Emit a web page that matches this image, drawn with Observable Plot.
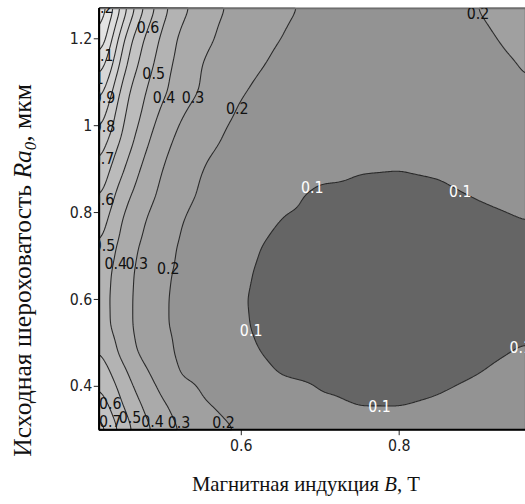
<!DOCTYPE html>
<html>
<head>
<meta charset="utf-8">
<script src="https://cdn.jsdelivr.net/npm/d3@7"></script>
<script src="https://cdn.jsdelivr.net/npm/@observablehq/plot@0.6"></script>
<style>
  html, body { margin: 0; padding: 0; background: #fff; overflow: hidden; }
  #chart { width: 525px; height: 504px; overflow: hidden; }
</style>
</head>
<body>
<div id="chart"></div>
<script>
// ---- axis limits and ticks ----
const xDomain = [0.42, 0.96];
const yDomain = [0.3, 1.27];
const xTicks = [0.6, 0.8];
const yTicks = [0.4, 0.6, 0.8, 1, 1.2];

// ---- contour levels and band shades ----
const levels = [0.1, 0.2, 0.3, 0.4, 0.5, 0.6, 0.7, 0.8, 0.9, 1.0, 1.1, 1.2];
const bandColors = ["#656565", "#939393", "#a0a0a0", "#aaaaaa", "#b3b3b3", "#bbbbbb",
  "#c3c3c3", "#cacaca", "#d1d1d1", "#d7d7d7", "#dddddd", "#e3e3e3", "#e8e8e8"];

// ---- surface: B (x), Ra0 (y), final roughness ----
const xGrid = [0.42, 0.435, 0.45, 0.465, 0.48, 0.50, 0.52, 0.55, 0.60, 0.65, 0.70, 0.75, 0.80, 0.85, 0.90, 0.96];
const yGrid = [1.27, 1.20, 1.14, 1.08, 1.02, 0.96, 0.90, 0.84, 0.78, 0.72, 0.66, 0.60, 0.54, 0.48, 0.42, 0.36, 0.30];
const zGrid = [
  [1.30, 1.14, 0.96, 0.80, 0.67, 0.54, 0.44, 0.356, 0.262, 0.215, 0.18, 0.17, 0.165, 0.18, 0.2005, 0.23],
  [1.21, 1.02, 0.82, 0.67, 0.58, 0.48, 0.39, 0.324, 0.25, 0.199, 0.175, 0.162, 0.157, 0.163, 0.19, 0.215],
  [1.07, 0.93, 0.74, 0.62, 0.54, 0.45, 0.37, 0.298, 0.23, 0.18, 0.165, 0.152, 0.148, 0.152, 0.168, 0.206],
  [0.96, 0.82, 0.66, 0.56, 0.498, 0.42, 0.36, 0.29, 0.205, 0.17, 0.155, 0.143, 0.138, 0.142, 0.155, 0.195],
  [0.86, 0.74, 0.61, 0.535, 0.46, 0.37, 0.31, 0.255, 0.185, 0.165, 0.145, 0.13, 0.125, 0.13, 0.145, 0.18],
  [0.77, 0.66, 0.57, 0.49, 0.41, 0.33, 0.28, 0.225, 0.17, 0.148, 0.128, 0.116, 0.113, 0.117, 0.13, 0.165],
  [0.69, 0.59, 0.51, 0.43, 0.365, 0.298, 0.26, 0.199, 0.165, 0.138, 0.113, 0.103, 0.101, 0.105, 0.115, 0.145],
  [0.62, 0.53, 0.44, 0.38, 0.33, 0.28, 0.23, 0.19, 0.155, 0.113, 0.09, 0.088, 0.086, 0.092, 0.103, 0.118],
  [0.56, 0.47, 0.39, 0.34, 0.295, 0.25, 0.205, 0.18, 0.14, 0.098, 0.085, 0.078, 0.077, 0.08, 0.088, 0.099],
  [0.502, 0.425, 0.365, 0.31, 0.275, 0.23, 0.195, 0.17, 0.118, 0.082, 0.075, 0.07, 0.068, 0.07, 0.078, 0.09],
  [0.47, 0.398, 0.345, 0.295, 0.26, 0.215, 0.19, 0.16, 0.11, 0.075, 0.068, 0.063, 0.062, 0.063, 0.07, 0.085],
  [0.46, 0.39, 0.34, 0.29, 0.255, 0.21, 0.185, 0.155, 0.105, 0.072, 0.064, 0.06, 0.058, 0.06, 0.066, 0.08],
  [0.47, 0.39, 0.34, 0.29, 0.255, 0.21, 0.185, 0.156, 0.107, 0.075, 0.066, 0.062, 0.061, 0.063, 0.07, 0.085],
  [0.51, 0.44, 0.365, 0.305, 0.27, 0.225, 0.19, 0.165, 0.118, 0.08, 0.072, 0.068, 0.068, 0.072, 0.085, 0.106],
  [0.58, 0.51, 0.44, 0.37, 0.32, 0.26, 0.203, 0.178, 0.14, 0.101, 0.088, 0.082, 0.082, 0.089, 0.102, 0.125],
  [0.66, 0.575, 0.495, 0.43, 0.373, 0.31, 0.27, 0.207, 0.174, 0.146, 0.11, 0.097, 0.097, 0.106, 0.125, 0.15],
  [0.76, 0.655, 0.56, 0.48, 0.42, 0.357, 0.298, 0.25, 0.19, 0.165, 0.14, 0.125, 0.123, 0.13, 0.145, 0.17]
];

// ---- contour labels (positions) ----
const labelText = ["1.2", "1.1", "1", "0.9", "0.8", "0.7", "0.6", "0.5",
  "0.6", "0.5", "0.4", "0.3", "0.2", "0.2",
  "0.4", "0.3", "0.2",
  "0.1", "0.1", "0.1", "0.1", "0.1",
  "0.6", "0.7", "0.5", "0.4", "0.3", "0.2"];
const labelX = [0.424, 0.424, 0.42, 0.426, 0.426, 0.425, 0.425, 0.426,
  0.482, 0.489, 0.502, 0.539, 0.595, 0.900,
  0.441, 0.4675, 0.5075,
  0.690, 0.8775, 0.6125, 0.775, 0.954,
  0.434, 0.434, 0.459, 0.4875, 0.521, 0.5775];
const labelY = [1.27, 1.161, 1.107, 1.064, 0.998, 0.923, 0.830, 0.723,
  1.226, 1.120, 1.064, 1.064, 1.039, 1.257,
  0.682, 0.682, 0.670,
  0.857, 0.848, 0.527, 0.353, 0.489,
  0.359, 0.318, 0.327, 0.318, 0.316, 0.316];

const grid = zGrid.flatMap((row, i) => row.map((v, j) => ({x: xGrid[j], y: yGrid[i], v})));
const labels = labelText.map((t, i) => ({x: labelX[i], y: labelY[i], t}));

const tickFont = "'Liberation Sans Narrow', 'DejaVu Sans Condensed', 'Liberation Sans', sans-serif";
const smoothing = {interpolate: "barycentric", pixelSize: 1, blur: 5};

const chart = Plot.plot({
  width: 532,
  height: 504,
  marginLeft: 100,
  marginRight: 0,
  marginTop: 8,
  marginBottom: 69,
  style: {fontFamily: tickFont, fontSize: "16px", color: "#222", background: "#fff"},
  x: {domain: xDomain, ticks: xTicks, tickSize: 6, tickPadding: 4, label: null, tickFormat: d => String(d)},
  y: {domain: yDomain, ticks: yTicks, tickSize: 5, tickPadding: 2, label: null, tickFormat: d => String(d)},
  color: {type: "threshold", domain: levels, range: bandColors},
  marks: [
    Plot.contour(grid, {x: "x", y: "y", fill: "v", thresholds: [0, ...levels],
      ...smoothing, stroke: "none"}),
    Plot.contour(grid, {x: "x", y: "y", value: "v", thresholds: levels,
      ...smoothing, fill: "none", stroke: "#2a2a2a", strokeWidth: 1.1}),
    Plot.ruleY([yDomain[1]], {stroke: "#6e6e6e", strokeWidth: 1.5}),
    Plot.ruleX([xDomain[0]], {stroke: "#000", strokeWidth: 2}),
    Plot.ruleY([yDomain[0]], {stroke: "#000", strokeWidth: 2}),
    Plot.text(labels, {x: "x", y: "y", text: "t", clip: true, fontSize: 16,
      fill: d => d.t === "0.1" ? "#ffffff" : "#111111"})
  ]
});

document.getElementById("chart").appendChild(chart);

const svg = d3.select(chart);
const serif = "'Liberation Serif', 'Times New Roman', serif";

const yt = svg.append("text")
  .attr("transform", "translate(31,274) rotate(-90)")
  .attr("text-anchor", "middle")
  .attr("font-family", serif)
  .attr("font-size", 26)
  .attr("fill", "#111");
yt.append("tspan").text("Исходная шероховатость ");
yt.append("tspan").attr("font-style", "italic").text("Ra");
yt.append("tspan").attr("font-style", "italic").attr("font-size", 17).attr("dy", 5).text("0");
yt.append("tspan").attr("dy", -5).text(", мкм");

const xt = svg.append("text")
  .attr("x", 310)
  .attr("y", 498)
  .attr("text-anchor", "middle")
  .attr("font-family", serif)
  .attr("font-size", 21)
  .attr("fill", "#111");
xt.append("tspan").text("Магнитная индукция ");
xt.append("tspan").attr("font-style", "italic").text("B");
xt.append("tspan").text(", Т");
</script>
</body>
</html>
